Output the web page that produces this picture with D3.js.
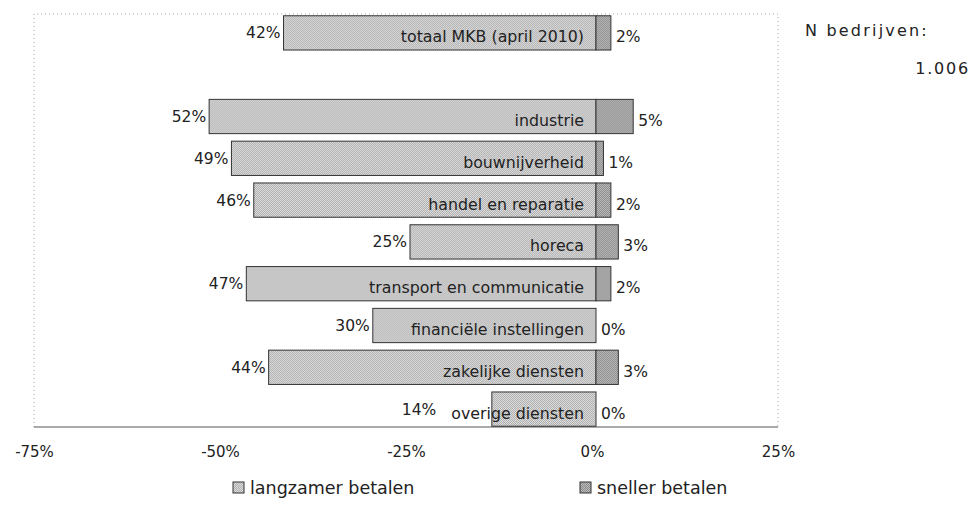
<!DOCTYPE html>
<html>
<head>
<meta charset="utf-8">
<script src="https://cdn.jsdelivr.net/npm/d3@7"></script>
<style>
  body { margin: 0; background: #fff; }
  text { font-family: "DejaVu Sans", Verdana, sans-serif; fill: #222; }
</style>
</head>
<body>
<svg id="chart" width="976" height="507"></svg>
<script>
// categorieen, '' = lege regel tussen totaal en sectoren
var categories = ['totaal MKB (april 2010)', '', 'industrie', 'bouwnijverheid',
    'handel en reparatie', 'horeca', 'transport en communicatie',
    'financiële instellingen', 'zakelijke diensten', 'overige diensten'];
var langzamer = [42, null, 52, 49, 46, 25, 47, 30, 44, 14];
var sneller = [2, null, 5, 1, 2, 3, 2, 0, 3, 0];
var xTicks = [-75, -50, -25, 0, 25];
var seriesNames = ['langzamer betalen', 'sneller betalen'];
var nBedrijven = '1.006';

var svg = d3.select('#chart');

// gespikkelde vulling (checker), zoals de gescande grafiek
var defs = svg.append('defs');
function stipple(id, light, dark){
    var p = defs.append('pattern').attr('id', id)
        .attr('width', 2).attr('height', 2)
        .attr('patternUnits', 'userSpaceOnUse');
    p.append('rect').attr('width', 2).attr('height', 2).attr('fill', light);
    [[0,0],[1,1]].forEach(function(d){
        p.append('rect').attr('x', d[0]).attr('y', d[1])
            .attr('width', 1).attr('height', 1).attr('fill', dark);
    });
}
stipple('slow', '#dedede', '#aeaeae');
stipple('fast', '#bdbdbd', '#8a8a8a');

var x = d3.scaleLinear().domain([-75, 25]).range([38, 782]);
var y = d3.scaleBand().domain(d3.range(categories.length))
    .range([12, 430]).paddingInner(0.18).paddingOuter(0.09);

var frameL = 34, frameR = 778, frameT = 14, frameB = 427;

// kader (stippellijn) en as
svg.append('path')
    .attr('d', 'M' + frameL + ',' + frameB + 'V' + frameT + 'H' + frameR + 'V' + frameB)
    .attr('fill', 'none').attr('stroke', '#aaa')
    .attr('stroke-width', 1).attr('stroke-dasharray', '1,3');
svg.append('line')
    .attr('x1', frameL).attr('x2', frameR)
    .attr('y1', frameB).attr('y2', frameB)
    .attr('stroke', '#555').attr('stroke-width', 1.2);

var xAxis = svg.append('g')
    .attr('transform', 'translate(-4,' + frameB + ')')
    .call(d3.axisBottom(x).tickValues(xTicks).tickSize(0).tickPadding(19)
        .tickFormat(function(d){ return d + '%'; }));
xAxis.select('.domain').remove();
xAxis.selectAll('text').style('font-size', '15px').attr('fill', '#333')
    .style('font-family', '"DejaVu Sans", Verdana, sans-serif');

var rows = categories.map(function(c, i){
    return {cat: c, slow: langzamer[i], fast: sneller[i], i: i};
}).filter(function(d){ return d.slow != null; });

var g = svg.append('g').selectAll('g.row').data(rows).enter()
    .append('g').attr('class', 'row')
    .attr('transform', function(d){ return 'translate(0,' + y(d.i) + ')'; });

var bh = y.bandwidth();

g.append('rect')
    .attr('x', function(d){ return x(-d.slow); })
    .attr('width', function(d){ return x(0) - x(-d.slow); })
    .attr('height', bh)
    .attr('fill', 'url(#slow)').attr('stroke', '#333').attr('stroke-width', 1);

g.append('rect')
    .attr('x', x(0))
    .attr('width', function(d){ return x(d.fast) - x(0); })
    .attr('height', bh)
    .attr('fill', 'url(#fast)').attr('stroke', '#333').attr('stroke-width', 1);

g.append('text').attr('class', 'cat')
    .attr('x', x(0) - 12).attr('y', bh / 2 + 4).attr('dy', '0.35em')
    .attr('text-anchor', 'end').style('font-size', '15.8px')
    .text(function(d){ return d.cat; })
    .each(function(d){ d.catStart = x(0) - 12 - this.getComputedTextLength(); });

// waardelabel links; schuift op als de categorienaam buiten de balk valt
g.append('text')
    .attr('x', function(d){ return Math.min(x(-d.slow) - 3, d.catStart - 15); })
    .attr('y', bh / 2).attr('dy', '0.35em')
    .attr('text-anchor', 'end').style('font-size', '15.5px').attr('fill', '#333')
    .text(function(d){ return d.slow + '%'; });

g.append('text')
    .attr('x', function(d){ return x(d.fast) + 5; })
    .attr('y', bh / 2 + 4).attr('dy', '0.35em')
    .style('font-size', '15.5px').attr('fill', '#333')
    .text(function(d){ return d.fast + '%'; });

// N bedrijven
svg.append('text').attr('x', 805).attr('y', 36)
    .style('font-size', '16px').style('letter-spacing', '2.2px')
    .attr('fill', '#333').text('N bedrijven:');
svg.append('text').attr('x', 970).attr('y', 74).attr('text-anchor', 'end')
    .style('font-size', '16px').style('letter-spacing', '1.8px')
    .attr('fill', '#333').text(nBedrijven);

// legenda
var legX = [233, 580];
var leg = svg.append('g').selectAll('g').data(seriesNames).enter().append('g')
    .attr('transform', function(d, i){ return 'translate(' + legX[i] + ',482)'; });
leg.append('rect').attr('width', 11).attr('height', 11)
    .attr('fill', function(d, i){ return i ? 'url(#fast)' : 'url(#slow)'; })
    .attr('stroke', '#333');
leg.append('text').attr('x', 17).attr('y', 6).attr('dy', '0.35em')
    .style('font-size', '17.5px').attr('fill', '#333').text(function(d){ return d; });
</script>
</body>
</html>
